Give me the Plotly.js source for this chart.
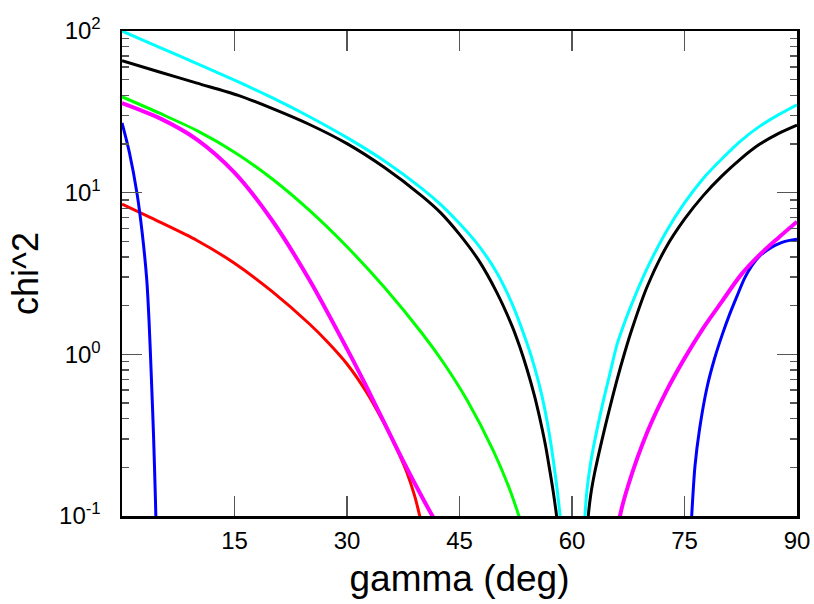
<!DOCTYPE html>
<html>
<head>
<meta charset="utf-8">
<script src="https://cdn.plot.ly/plotly-3.0.1.min.js"></script>
<style>html,body{margin:0;padding:0;background:#fff;}#chart{width:814px;height:604px;}</style>
</head>
<body>
<div id="chart"></div>
<script>
// gamma (deg) and chi^2 values
const redG = [0, 5, 10, 15, 20, 25, 27.5, 30, 32.5, 35, 37, 38, 39, 39.7, 40.2];
const redV = [8.49, 6.59, 5.06, 3.66, 2.45, 1.54, 1.18, 0.872, 0.594, 0.37, 0.239, 0.185, 0.134, 0.1, 0.079];

const blueLeftG = [0, 1, 2, 2.7, 3.3, 3.6, 3.9, 4.2, 4.45, 4.6];
const blueLeftV = [27, 17.6, 9.9, 5.6, 2.9, 1.63, 0.75, 0.32, 0.13, 0.07];
const blueRightG = [75.8, 75.96, 76.4, 77, 78, 79, 80, 81, 82, 83, 84, 85, 86, 87, 88, 89, 90];
const blueRightV = [0.07, 0.1, 0.204, 0.343, 0.624, 0.939, 1.31, 1.76, 2.29, 2.95, 3.55, 4.05, 4.4, 4.7, 4.93, 5.07, 5.16];

const greenG = [0, 5, 10, 15, 20, 25, 30, 35, 40, 43, 46, 49.5, 51.7, 53, 53.5];
const greenV = [39.2, 31.0, 24.2, 17.8, 12.2, 7.77, 4.63, 2.59, 1.35, 0.868, 0.521, 0.254, 0.146, 0.098, 0.085];

const magentaLeftG = [0, 5, 10, 15, 20, 25, 30, 32.5, 35, 37.5, 40, 41.4, 42];
const magentaLeftV = [35.8, 28.9, 21.3, 13.3, 6.75, 2.88, 1.08, 0.644, 0.375, 0.2185, 0.131, 0.1, 0.09];
const magentaRightG = [66.2, 66.4, 67.5, 70, 72.5, 75, 77.5, 80, 82.5, 85, 87.5, 90];
const magentaRightV = [0.085, 0.1, 0.155, 0.327, 0.582, 0.944, 1.454, 2.126, 3.09, 4.12, 5.25, 6.61];

const blackLeftG = [0, 5, 10, 15.5, 20, 25, 30, 35, 40, 42.5, 45, 47.5, 50, 52, 53, 54, 55, 56, 56.5, 57, 57.5, 58, 58.3];
const blackLeftV = [65.5, 55.8, 47.6, 40.0, 33.2, 26.4, 20.1, 14.3, 9.52, 7.5, 5.52, 3.85, 2.4, 1.5, 1.125, 0.809, 0.553, 0.349, 0.268, 0.196, 0.141, 0.0955, 0.07];
const blackRightG = [62.0, 62.17, 62.5, 63, 64, 65, 66, 67, 68, 70, 72.5, 75, 77.5, 80, 82.5, 85, 87.5, 90];
const blackRightV = [0.075, 0.1, 0.1355, 0.183, 0.296, 0.459, 0.695, 1.016, 1.435, 2.61, 4.55, 6.85, 9.59, 12.7, 16.2, 19.9, 23.2, 26.2];

const cyanLeftG = [0, 5, 10, 15, 20, 25, 30, 35, 40, 42.5, 45, 47.5, 50, 52, 54, 55, 56, 57, 58, 58.5, 58.8];
const cyanLeftV = [100, 79.3, 62.8, 49.6, 38.7, 29.5, 21.9, 15.7, 10.6, 8.43, 6.44, 4.74, 3.19, 2.06, 1.17, 0.834, 0.551, 0.317, 0.148, 0.091, 0.06];
const cyanRightG = [61.6, 61.73, 62, 62.5, 63, 64, 65, 66, 67, 68, 70, 72.5, 75, 77.5, 80, 82.5, 85, 87.5, 90];
const cyanRightV = [0.075, 0.1, 0.145, 0.215, 0.288, 0.475, 0.741, 1.148, 1.567, 2.065, 3.385, 5.68, 8.65, 12.25, 16.2, 20.9, 25.7, 30.3, 35.0];

const xTickVals = [15, 30, 45, 60, 75, 90];
const yTickVals = [0.1, 1, 10, 100];
const yTickText = ['10<sup>-1</sup>', '10<sup>0</sup>', '10<sup>1</sup>', '10<sup>2</sup>'];
const yMinorVals = [0.2, 0.3, 0.4, 0.5, 0.6, 0.7, 0.8, 0.9, 2, 3, 4, 5, 6, 7, 8, 9, 20, 30, 40, 50, 60, 70, 80, 90];

function line(x, y, color, width) {
  return {x: x, y: y, type: 'scatter', mode: 'lines', hoverinfo: 'skip',
          line: {color: color, width: width, shape: 'spline', smoothing: 0.8}};
}

const traces = [
  line(redG, redV, '#ff0000', 3),
  line(blueLeftG, blueLeftV, '#0000ff', 3),
  line(blueRightG, blueRightV, '#0000ff', 3),
  line(greenG, greenV, '#00ff00', 3),
  line(blackLeftG, blackLeftV, '#000000', 3),
  line(blackRightG, blackRightV, '#000000', 3),
  line(cyanLeftG, cyanLeftV, '#00ffff', 3),
  line(cyanRightG, cyanRightV, '#00ffff', 3),
  line(magentaLeftG, magentaLeftV, '#ff00ff', 4),
  line(magentaRightG, magentaRightV, '#ff00ff', 4)
];

const font = 'Liberation Sans, Arial, sans-serif';
const layout = {
  width: 814, height: 604,
  margin: {l: 122, r: 17, t: 31, b: 88},
  paper_bgcolor: '#ffffff', plot_bgcolor: '#ffffff',
  showlegend: false,
  font: {family: font, color: '#000000'},
  xaxis: {
    range: [0, 90], tickmode: 'array', tickvals: xTickVals,
    ticks: 'inside', ticklen: 20, tickwidth: 1.5, tickcolor: '#555555',
    showline: true, linecolor: '#000000', linewidth: 2.5, mirror: 'ticks',
    showgrid: false, zeroline: false, ticklabelstandoff: 2,
    tickfont: {family: font, size: 24, color: '#000000'},
    title: {text: 'gamma (deg)', font: {family: font, size: 37, color: '#000000'}, standoff: 12}
  },
  yaxis: {
    type: 'log', range: [-1, 2], tickmode: 'array', tickvals: yTickVals, ticktext: yTickText,
    ticks: 'inside', ticklen: 20, tickwidth: 1.5, tickcolor: '#555555',
    minor: {tickmode: 'array', tickvals: yMinorVals, ticks: 'inside', ticklen: 7, tickwidth: 1.5, tickcolor: '#555555', showgrid: false},
    showline: true, linecolor: '#000000', linewidth: 2.5, mirror: 'ticks',
    showgrid: false, zeroline: false, ticklabelstandoff: 14,
    tickfont: {family: font, size: 24, color: '#000000'},
    title: {text: 'chi^2', font: {family: font, size: 36, color: '#000000'}, standoff: 10}
  }
};

Plotly.newPlot('chart', traces, layout, {staticPlot: true, displayModeBar: false});
</script>
</body>
</html>
